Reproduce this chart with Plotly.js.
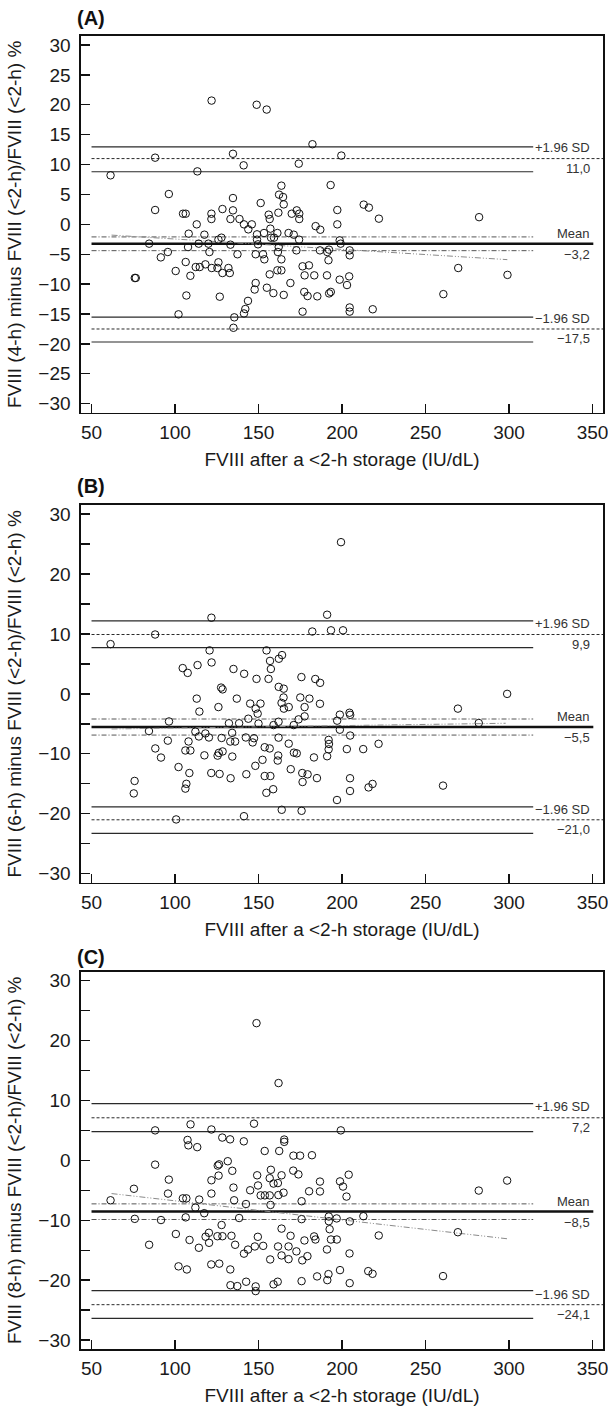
<!DOCTYPE html>
<html><head><meta charset="utf-8">
<script src="https://cdn.plot.ly/plotly-3.0.1.min.js"></script>
<style>html,body{margin:0;padding:0;background:#fff;} #chart{width:608px;height:1407px;}</style>
</head><body><div id="chart"></div>
<script>
// ---------- Panel A: FVIII (4-h) ----------
const xA = [61.4,88.1,113.4,96.3,88.1,104.8,106.4,113.0,121.8,121.8,128.4,134.7,134.7,133.2,134.7,108.2,117.6,127.8,126.0,84.5,107.8,114.2,120.0,133.2,120.6,95.7,91.5,106.4,112.4,114.8,118.2,122.0,125.4,126.0,128.4,132.8,132.0,100.4,109.2,75.9,76.5,106.8,126.8,102.1,135.5,135.0,137.4,141.1,174.1,199.6,163.7,193.2,162.3,164.7,165.1,151.3,161.9,156.1,156.7,169.9,172.9,174.4,174.4,138.6,141.3,146.0,143.9,149.1,149.1,149.7,153.3,157.1,157.5,159.3,161.3,168.0,171.1,174.3,162.1,172.7,148.3,152.7,153.5,161.6,163.7,186.8,191.2,192.2,191.9,198.6,199.2,204.6,204.6,176.4,180.2,161.3,163.7,156.7,177.6,183.4,191.0,198.6,204.3,203.0,169.1,148.3,147.7,155.0,158.9,165.1,177.4,179.4,185.2,192.3,193.3,143.7,142.1,141.3,176.4,204.6,204.6,218.4,197.2,197.2,184.2,187.0,213.0,216.1,222.1,282.1,260.7,269.6,299.1,121.9,148.9,154.9,182.3];
const yA = [8.2,11.15,8.86,5.07,2.4,1.78,1.78,0.0,1.78,0.89,2.56,4.4,2.34,0.89,11.8,-1.56,-1.73,-2.23,-2.56,-3.23,-3.8,-3.23,-3.23,-3.4,-4.63,-4.63,-5.52,-6.3,-7.14,-7.14,-6.69,-7.3,-7.3,-6.35,-8.14,-8.14,-7.3,-7.8,-8.6,-8.97,-8.97,-11.9,-12.1,-15.05,-15.55,-17.3,-5.0,9.87,10.15,11.5,6.47,6.57,4.97,4.57,3.34,3.57,1.95,1.62,0.89,1.78,2.34,1.78,0.89,0.89,0.0,0.0,-0.84,-1.67,-2.56,-3.34,-1.45,-0.72,-2.23,-2.23,-1.45,-1.45,-1.73,-2.56,-3.79,-4.35,-5.0,-5.0,-5.85,-4.63,-5.85,-4.35,-4.63,-4.23,-6.0,-2.68,-3.23,-4.35,-5.18,-7.02,-6.86,-7.69,-7.69,-8.36,-8.53,-8.53,-8.53,-9.25,-8.7,-10.15,-9.81,-9.81,-10.9,-10.6,-11.5,-11.8,-11.3,-11.99,-12.04,-11.55,-11.3,-12.8,-14.16,-14.9,-14.6,-13.9,-14.6,-14.2,2.4,0.0,-0.3,-0.9,3.3,2.8,0.95,1.2,-11.67,-7.3,-8.45,20.7,20.0,19.2,13.4];

// ---------- Panel B: FVIII (6-h) ----------
const xB = [61.4,88.1,121.8,191.1,199.4,182.2,193.4,200.6,120.7,121.9,154.8,156.9,162.2,164.1,157.4,104.6,107.6,113.5,135.0,141.4,148.8,156.0,175.7,184.0,186.9,127.6,128.5,162.1,165.1,298.9,113.0,137.0,165.0,175.0,180.5,186.8,114.6,126.0,145.0,151.2,148.3,149.5,168.1,177.6,177.6,174.0,171.1,159.0,162.0,143.9,150.0,138.4,132.3,197.1,198.7,204.5,204.9,198.7,204.9,269.4,281.9,96.4,84.4,95.7,88.2,91.6,75.8,75.3,100.7,102.1,108.6,106.8,106.2,106.2,109.2,108.1,112.2,114.3,117.6,118.2,120.3,121.7,126.7,125.5,126.2,128.5,127.9,134.2,133.1,136.0,134.3,133.3,142.7,142.4,146.5,147.3,148.1,152.4,153.7,156.7,153.7,157.1,154.7,158.8,161.8,161.5,162.0,163.9,168.1,169.3,171.2,172.9,176.2,176.4,179.4,175.8,183.2,185.0,191.1,192.0,192.2,192.0,197.0,202.9,204.8,204.8,212.7,215.9,218.3,221.9,260.5,141.3,163.8,165.2];
const yB = [8.3,9.9,12.7,13.2,25.3,10.4,10.6,10.6,7.25,5.24,7.25,5.5,5.86,6.47,4.15,4.3,3.5,4.8,4.15,3.35,2.5,2.5,2.8,2.48,1.84,1.05,0.75,1.17,0.87,0.0,-0.79,-0.79,-0.6,-0.6,-0.79,-1.65,-2.95,-2.2,-1.62,-1.62,-2.46,-3.3,-2.2,-2.2,-3.75,-4.25,-5.2,-5.2,-4.65,-4.14,-4.95,-4.9,-4.9,-4.47,-3.47,-3.15,-3.5,-5.98,-6.95,-2.46,-4.86,-4.6,-6.2,-7.8,-9.1,-10.62,-14.52,-16.6,-20.94,-12.2,-13.2,-15.0,-15.8,-9.44,-9.44,-7.94,-6.3,-7.1,-10.25,-6.6,-7.27,-13.2,-13.35,-10.3,-9.85,-9.6,-7.35,-6.5,-7.95,-7.95,-10.45,-14.07,-13.4,-7.27,-8.1,-7.4,-12.0,-11.0,-8.9,-9.1,-13.7,-13.7,-16.5,-15.9,-10.28,-11.12,-7.3,-19.33,-8.3,-12.56,-9.8,-9.92,-13.2,-14.7,-13.42,-19.5,-10.6,-14.05,-10.4,-9.25,-8.35,-7.68,-17.7,-9.21,-14.07,-16.2,-9.21,-15.6,-15.02,-8.33,-15.3,-20.4,-1.51,-2.46];

// ---------- Panel C: FVIII (8-h) ----------
const xC = [148.8,162.0,88.1,109.3,121.8,147.3,199.3,107.5,108.0,113.3,128.3,133.0,141.2,165.4,165.4,153.7,162.4,170.9,174.9,182.0,131.6,88.1,75.4,61.4,75.9,84.5,91.6,96.3,95.8,100.5,102.1,104.7,106.8,106.4,107.1,108.7,112.2,114.5,114.3,117.5,118.3,120.3,120.4,121.8,121.8,121.7,125.6,126.4,126.1,125.4,128.4,127.9,126.5,134.3,135.0,135.4,133.8,133.1,136.0,133.2,137.3,138.4,142.5,141.3,143.7,142.6,145.0,148.3,148.3,149.2,149.7,149.6,147.8,151.3,153.8,156.7,152.8,156.7,157.4,157.0,157.2,159.0,161.6,161.9,159.0,161.5,161.7,163.8,163.8,163.8,165.0,168.0,168.0,169.2,170.8,173.9,172.7,175.8,175.8,176.2,175.8,177.5,179.3,180.3,183.3,184.1,185.1,186.8,186.8,191.0,191.2,192.1,192.1,192.6,191.9,193.4,196.9,196.8,198.8,200.6,198.8,202.7,204.0,204.7,204.5,204.6,212.8,215.7,218.3,222.0,260.5,269.4,281.9,298.9];
const yC = [22.9,12.9,5.0,6.0,5.15,6.12,5.0,3.4,2.5,2.2,3.8,3.5,3.17,3.47,3.08,1.56,1.56,0.78,0.78,0.85,-0.15,-0.72,-4.75,-6.67,-9.77,-14.1,-9.97,-3.22,-5.55,-12.3,-17.7,-6.35,-6.35,-9.52,-18.22,-13.3,-7.9,-6.55,-14.6,-8.83,-12.75,-12.1,-13.77,-5.55,-3.33,-17.38,-0.88,-0.67,-2.55,-12.67,-12.67,-10.8,-17.25,-1.75,-4.55,-6.67,-12.6,-18.22,-14.1,-20.85,-21.0,-9.63,-7.3,-15.58,-14.9,-20.27,-5.0,-21.05,-21.83,-2.5,-4.2,-12.77,-14.38,-5.85,-5.85,-5.85,-14.28,-2.98,-1.58,-16.55,-7.45,-3.88,-3.8,-5.8,-20.7,-20.27,-14.38,-11.4,-15.88,-2.5,-5.4,-14.38,-16.5,-12.6,-1.72,-2.35,-15.2,-6.83,-9.82,-16.7,-20.17,-13.38,-16.0,-5.17,-12.7,-13.22,-19.38,-3.55,-5.2,-14.88,-20.0,-9.38,-10.17,-11.5,-19.0,-13.22,-13.22,-9.7,-3.52,-4.38,-18.33,-6.05,-2.4,-10.2,-15.55,-20.5,-9.33,-18.5,-18.95,-12.55,-19.33,-12.0,-5.05,-3.38];

// ---------- reference lines (Bland-Altman) ----------
const meanVal      = [-3.25, -5.53, -8.55];
const meanCIHigh   = [-2.1, -4.19, -7.27];
const meanCILow    = [-4.4, -6.87, -9.88];
const upperLoA     = [11.0, 9.9, 7.1];
const upperLoAHigh = [12.95, 12.16, 9.45];
const upperLoALow  = [8.8, 7.7, 4.78];
const lowerLoA     = [-17.5, -21.0, -24.1];
const lowerLoAHigh = [-15.5, -18.83, -21.77];
const lowerLoALow  = [-19.68, -23.28, -26.38];
const regStartX = [62, 62, 62];
const regEndX   = [299, 298, 299];
const regStartY = [-1.8, -5.85, -5.55];
const regEndY   = [-5.9, -4.9, -13.1];

// ---------- texts ----------
const panelLetters = ['(A)', '(B)', '(C)'];
const yTitles = [
  'FVIII (4-h) minus FVIII (&lt;2-h)/FVIII (&lt;2-h) %',
  'FVIII (6-h) minus FVIII (&lt;2-h)/FVIII (&lt;2-h) %',
  'FVIII (8-h) minus FVIII (&lt;2-h)/FVIII (&lt;2-h) %'
];
const xTitle = 'FVIII after a &lt;2-h storage (IU/dL)';
const labelUpperSD = '+1.96 SD';
const labelLowerSD = '\u22121.96 SD';
const labelMean = 'Mean';
const labelUpperVal = ['11,0', '9,9', '7,2'];
const labelMeanVal = ['\u22123,2', '\u22125,5', '\u22128,5'];
const labelLowerVal = ['\u221217,5', '\u221221,0', '\u221224,1'];
const xTicks = [50, 100, 150, 200, 250, 300, 350];
const yTicks = [-30, -25, -20, -15, -10, -5, 0, 5, 10, 15, 20, 25, 30];

// ---------- geometry / style (not data) ----------
const FONT = '"Liberation Sans", Arial, Helvetica, sans-serif';
const domains = [[0.7131, 1.0], [0.3551, 0.6428], [0.0, 0.2874]];
const letterY = [1.0134, 0.6574, 0.2988];
const lineStart = 50, ciEnd = 314.5, meanEnd = 350.5, loaEnd = 356.3;
const xs = [xA, xB, xC], ys = [yA, yB, yC];

const fmt = v => (v < 0 ? '\u2212' + Math.abs(v) : String(v));
const traces = [];
const annotations = [];
const layout = {
  width: 608, height: 1407,
  margin: {l: 81, r: 5, t: 36, b: 58},
  paper_bgcolor: '#fff', plot_bgcolor: '#fff',
  showlegend: false, hovermode: false,
  font: {family: FONT, color: '#1a1a1a', size: 19},
  annotations: annotations
};

function hline(x0, x1, y, line, s) {
  traces.push({x: [x0, x1], y: [y, y], mode: 'lines', line: line,
    xaxis: 'x' + s, yaxis: 'y' + s, hoverinfo: 'skip'});
}

for (let i = 0; i < 3; i++) {
  const s = i === 0 ? '' : String(i + 1);
  const solid = {color: '#2a2a2a', width: 1.2};
  const dashed = {color: '#2a2a2a', width: 1, dash: '3px,2px'};
  const dashdot = {color: '#555', width: 1, dash: '5px,2px,1px,2px'};
  // limits of agreement and their CI
  hline(lineStart, ciEnd, upperLoAHigh[i], solid, s);
  hline(lineStart, loaEnd, upperLoA[i], dashed, s);
  hline(lineStart, ciEnd, upperLoALow[i], solid, s);
  hline(lineStart, ciEnd, lowerLoAHigh[i], solid, s);
  hline(lineStart, loaEnd, lowerLoA[i], dashed, s);
  hline(lineStart, ciEnd, lowerLoALow[i], solid, s);
  // mean and CI
  hline(lineStart, ciEnd, meanCIHigh[i], dashdot, s);
  hline(lineStart, ciEnd, meanCILow[i], dashdot, s);
  hline(lineStart, meanEnd, meanVal[i], {color: '#111', width: 2.6}, s);
  // regression line
  traces.push({x: [regStartX[i], regEndX[i]], y: [regStartY[i], regEndY[i]], mode: 'lines',
    line: {color: '#8a8a8a', width: 1, dash: '6px,2px,1px,2px,1px,2px'},
    xaxis: 'x' + s, yaxis: 'y' + s, hoverinfo: 'skip'});
  // points
  traces.push({x: xs[i], y: ys[i], mode: 'markers', type: 'scatter',
    marker: {symbol: 'circle-open', size: 7.5, color: '#111', line: {width: 1}},
    xaxis: 'x' + s, yaxis: 'y' + s, hoverinfo: 'skip'});

  const axCommon = {
    ticks: 'inside', ticklen: 9, tickwidth: 1.3, tickcolor: '#111',
    showline: true, mirror: true, linecolor: '#111', linewidth: 1.6,
    showgrid: false, zeroline: false, fixedrange: true,
    tickfont: {family: FONT, size: 19, color: '#1a1a1a'}
  };
  layout['xaxis' + s] = Object.assign({}, axCommon, {
    domain: [0, 1], anchor: 'y' + s, range: [43.7, 356.3],
    tickvals: xTicks, ticktext: xTicks.map(String), ticklabelstandoff: 2,
    ticklabeloverflow: 'allow',
    title: {text: xTitle, font: {family: FONT, size: 19, color: '#1a1a1a'}, standoff: 10}
  });
  layout['yaxis' + s] = Object.assign({}, axCommon, {
    domain: domains[i], anchor: 'x' + s, range: [-31.5, 31.5],
    tickvals: yTicks,
    ticktext: yTicks.map(v => (i === 0 || v % 10 === 0) ? fmt(v) : ''),
    ticklabelstandoff: 5,
    title: {text: yTitles[i], font: {family: FONT, size: 19, color: '#1a1a1a'}, standoff: 12}
  });

  // panel letter
  annotations.push({xref: 'paper', yref: 'paper', x: -0.011, y: letterY[i],
    xanchor: 'left', yanchor: 'middle', showarrow: false,
    text: '<b>' + panelLetters[i] + '</b>', font: {family: FONT, size: 20, color: '#111'}});
  // right-side labels
  const lab = (y, txt, shift) => annotations.push({xref: 'x' + s, yref: 'y' + s,
    x: 349.5, y: y, xanchor: 'right', yanchor: 'middle', yshift: shift, showarrow: false,
    text: txt, font: {family: FONT, size: 13, color: '#333'}});
  lab(upperLoA[i], labelUpperSD, 11);
  lab(upperLoA[i], labelUpperVal[i], -10);
  lab(meanVal[i], labelMean, 10.5);
  lab(meanVal[i], labelMeanVal[i], -10.5);
  lab(lowerLoA[i], labelLowerSD, 10.5);
  lab(lowerLoA[i], labelLowerVal[i], -9.8);
}

Plotly.newPlot('chart', traces, layout, {staticPlot: true, displayModeBar: false});
</script></body></html>
